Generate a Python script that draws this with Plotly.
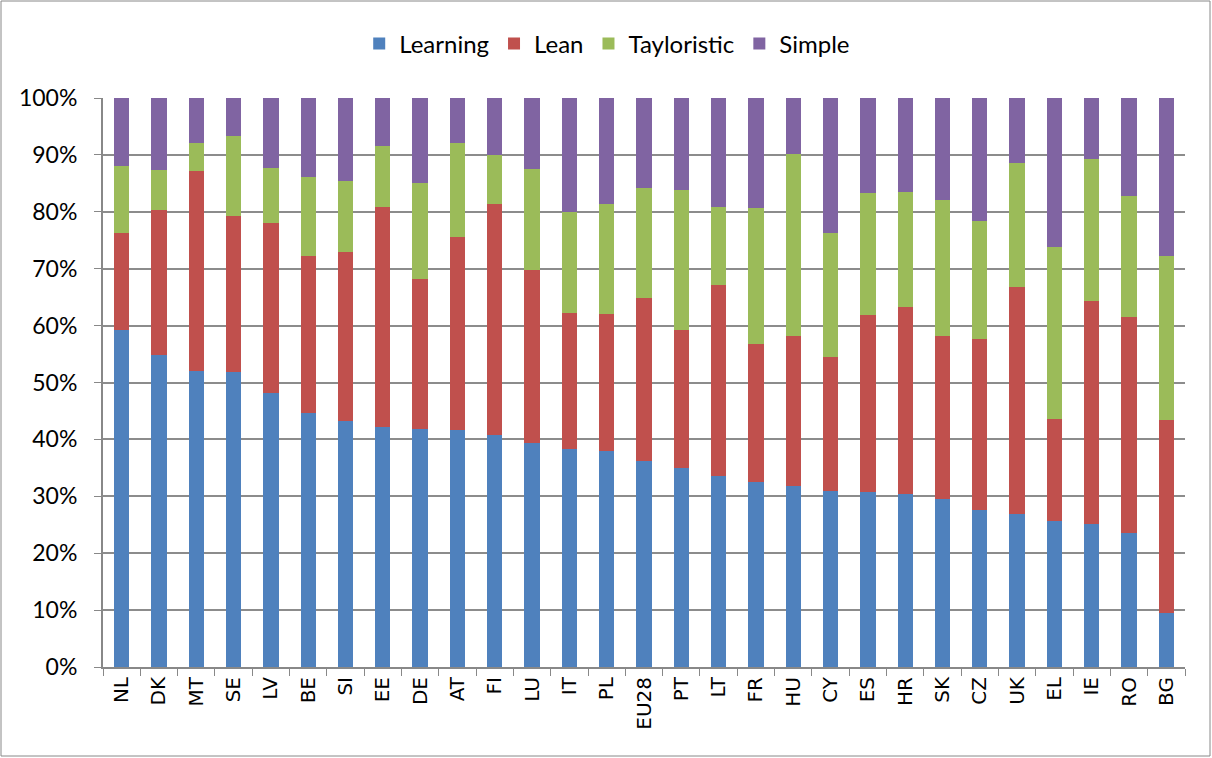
import plotly.graph_objects as go

countries = ["NL", "DK", "MT", "SE", "LV", "BE", "SI", "EE", "DE", "AT", "FI", "LU", "IT", "PL",
             "EU28", "PT", "LT", "FR", "HU", "CY", "ES", "HR", "SK", "CZ", "UK", "EL", "IE", "RO", "BG"]

learning = [59.3, 54.9, 52.1, 51.9, 48.1, 44.6, 43.2, 42.1, 41.8, 41.6, 40.8, 39.3, 38.3, 37.9,
            36.2, 35.0, 33.6, 32.6, 31.8, 31.0, 30.8, 30.4, 29.6, 27.6, 26.9, 25.6, 25.2, 23.5, 9.5]
lean = [16.9, 25.4, 35.0, 27.4, 30.0, 27.7, 29.7, 38.7, 26.4, 33.9, 40.5, 30.4, 24.0, 24.2,
        28.6, 24.2, 33.5, 24.1, 26.3, 23.4, 31.0, 32.9, 28.5, 30.1, 39.8, 18.0, 39.1, 38.0, 33.9]
tayloristic = [11.8, 7.0, 5.0, 14.1, 9.6, 13.8, 12.5, 10.8, 16.8, 16.6, 8.7, 17.8, 17.6, 19.2,
               19.4, 24.6, 13.8, 24.0, 32.1, 21.9, 21.5, 20.2, 24.0, 20.7, 21.8, 30.2, 25.0, 21.3, 28.9]
simple = [12.0, 12.7, 7.9, 6.6, 12.3, 13.9, 14.6, 8.4, 15.0, 7.9, 10.0, 12.5, 20.1, 18.7,
          15.8, 16.2, 19.1, 19.3, 9.8, 23.7, 16.7, 16.5, 17.9, 21.6, 11.5, 26.2, 10.7, 17.2, 27.7]

series = [("Learning", learning, "#4F81BD"),
          ("Lean", lean, "#C0504D"),
          ("Tayloristic", tayloristic, "#9BBB59"),
          ("Simple", simple, "#8064A2")]

fig = go.Figure()
for name, vals, col in series:
    fig.add_trace(go.Bar(x=countries, y=vals, name=name, marker_color=col,
                         marker_line_width=0))

# plot area geometry (pixels) for outer border
L, R, T, B = 103, 1185, 98, 667
W, H = 1212, 758
pw, ph = R - L, B - T

fig.update_layout(
    barmode="stack",
    bargap=0.59,
    width=W, height=H,
    margin=dict(l=L, r=W - R, t=T, b=H - B, autoexpand=False),
    paper_bgcolor="white",
    plot_bgcolor="white",
    font=dict(family="Lato, Liberation Sans, sans-serif", size=20, color="#000000"),
    legend=dict(orientation="h", x=0.466, xanchor="center", y=1.0 + (T - 44) / ph, yanchor="middle",
                font=dict(size=24), itemwidth=30, traceorder="normal"),
    xaxis=dict(showgrid=False, ticks="outside", tickson="boundaries", ticklen=7,
               tickcolor="#888888", showline=True, linecolor="#888888", linewidth=2,
               tickangle=-90, automargin=False,
               tickfont=dict(family="DejaVu Sans, Liberation Sans, sans-serif", size=20)),
    yaxis=dict(range=[0, 100], dtick=10, ticksuffix="%", showgrid=True, gridcolor="#8c8c8c",
               gridwidth=2, showline=True, linecolor="#888888", linewidth=2, ticks="outside",
               ticklen=7, tickcolor="#888888", zeroline=False, ticklabelstandoff=12,
               tickfont=dict(family="Lato, Liberation Sans, sans-serif", size=23)),
    shapes=[dict(type="rect", xref="paper", yref="paper",
                 x0=(1 - L) / pw, x1=(W - 2 - L) / pw,
                 y0=(B - (H - 2)) / ph, y1=(B - 1) / ph,
                 line=dict(color="#888888", width=1), fillcolor="rgba(0,0,0,0)", layer="below")],
)

fig.write_html("out.html", config={"displayModeBar": False},
               post_script="document.body.style.margin='0';document.body.style.overflow='hidden';")
